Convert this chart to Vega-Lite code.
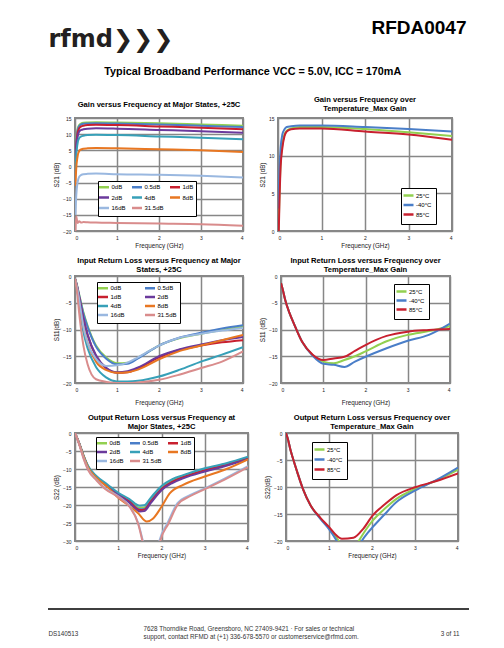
{
"$schema":"https://vega.github.io/schema/vega-lite/v6.json",
"padding":{"left":47,"top":18,"right":5,"bottom":5},
"background":"white",
"config":{
 "font":"Liberation Sans",
 "view":{"stroke":"#878787","strokeWidth":2},
 "title":{"fontSize":7.6,"fontWeight":"bold","color":"#000","offset":5,"lineHeight":9},
 "axis":{"labelFontSize":5,"labelColor":"#222","titleFontSize":6.3,"titleFontWeight":"normal","titleColor":"#222","domain":false,"ticks":false,"gridColor":"#878787","gridWidth":1.5,"labelPadding":4},
 "axisX":{"titlePadding":2},
 "axisY":{"titlePadding":3},
 "legend":{"orient":"none","direction":"horizontal","labelFontSize":6,"labelColor":"#000","strokeColor":"#000","fillColor":"white","padding":2.5,"symbolStrokeWidth":2.5,"symbolSize":16,"symbolType":"M-2.5,0H2.5","rowPadding":0,"columnPadding":6,"labelOffset":4}
},
"resolve":{"scale":{"color":"independent"},"legend":{"color":"independent"}},
"datasets":{
"d1":[
{"s":"0dB","f":0.01,"v":3},{"s":"0dB","f":0.03,"v":8},{"s":"0dB","f":0.06,"v":11.5},{"s":"0dB","f":0.1,"v":12.8},{"s":"0dB","f":0.15,"v":13.3},{"s":"0dB","f":0.2,"v":13.5},{"s":"0dB","f":0.3,"v":13.6},{"s":"0dB","f":0.5,"v":13.7},{"s":"0dB","f":1,"v":13.6},{"s":"0dB","f":2,"v":13.4},{"s":"0dB","f":3,"v":13.0},{"s":"0dB","f":4,"v":12.6},
{"s":"0.5dB","f":0.01,"v":2},{"s":"0.5dB","f":0.03,"v":7.5},{"s":"0.5dB","f":0.06,"v":11},{"s":"0.5dB","f":0.1,"v":12.5},{"s":"0.5dB","f":0.15,"v":13},{"s":"0.5dB","f":0.2,"v":13.2},{"s":"0.5dB","f":0.3,"v":13.3},{"s":"0.5dB","f":0.5,"v":13.4},{"s":"0.5dB","f":1,"v":13.3},{"s":"0.5dB","f":2,"v":13.0},{"s":"0.5dB","f":3,"v":12.6},{"s":"0.5dB","f":4,"v":12.2},
{"s":"1dB","f":0.01,"v":1},{"s":"1dB","f":0.03,"v":6.5},{"s":"1dB","f":0.06,"v":10.2},{"s":"1dB","f":0.1,"v":11.8},{"s":"1dB","f":0.15,"v":12.4},{"s":"1dB","f":0.2,"v":12.6},{"s":"1dB","f":0.3,"v":12.8},{"s":"1dB","f":0.5,"v":12.9},{"s":"1dB","f":1,"v":12.8},{"s":"1dB","f":2,"v":12.4},{"s":"1dB","f":3,"v":12.0},{"s":"1dB","f":4,"v":11.5},
{"s":"2dB","f":0.01,"v":0},{"s":"2dB","f":0.03,"v":5.5},{"s":"2dB","f":0.06,"v":9},{"s":"2dB","f":0.1,"v":10.8},{"s":"2dB","f":0.15,"v":11.3},{"s":"2dB","f":0.2,"v":11.5},{"s":"2dB","f":0.3,"v":11.7},{"s":"2dB","f":0.5,"v":11.8},{"s":"2dB","f":1,"v":11.7},{"s":"2dB","f":2,"v":11.3},{"s":"2dB","f":3,"v":10.9},{"s":"2dB","f":4,"v":10.4},
{"s":"4dB","f":0.01,"v":-2},{"s":"4dB","f":0.03,"v":3.5},{"s":"4dB","f":0.06,"v":7},{"s":"4dB","f":0.1,"v":8.8},{"s":"4dB","f":0.15,"v":9.3},{"s":"4dB","f":0.2,"v":9.5},{"s":"4dB","f":0.3,"v":9.7},{"s":"4dB","f":0.5,"v":9.8},{"s":"4dB","f":1,"v":9.7},{"s":"4dB","f":2,"v":9.3},{"s":"4dB","f":3,"v":8.9},{"s":"4dB","f":4,"v":8.4},
{"s":"8dB","f":0.01,"v":-6},{"s":"8dB","f":0.03,"v":-0.5},{"s":"8dB","f":0.06,"v":3},{"s":"8dB","f":0.1,"v":4.8},{"s":"8dB","f":0.15,"v":5.3},{"s":"8dB","f":0.2,"v":5.5},{"s":"8dB","f":0.3,"v":5.6},{"s":"8dB","f":0.5,"v":5.7},{"s":"8dB","f":1,"v":5.6},{"s":"8dB","f":2,"v":5.3},{"s":"8dB","f":3,"v":5.0},{"s":"8dB","f":4,"v":4.5},
{"s":"16dB","f":0.01,"v":-15},{"s":"16dB","f":0.03,"v":-9},{"s":"16dB","f":0.06,"v":-5},{"s":"16dB","f":0.1,"v":-3.2},{"s":"16dB","f":0.15,"v":-2.6},{"s":"16dB","f":0.2,"v":-2.4},{"s":"16dB","f":0.3,"v":-2.3},{"s":"16dB","f":0.5,"v":-2.2},{"s":"16dB","f":1,"v":-2.4},{"s":"16dB","f":2,"v":-2.6},{"s":"16dB","f":3,"v":-2.9},{"s":"16dB","f":4,"v":-3.4},
{"s":"31.5dB","f":0.01,"v":-20},{"s":"31.5dB","f":0.03,"v":-15.5},{"s":"31.5dB","f":0.06,"v":-17.5},{"s":"31.5dB","f":0.1,"v":-17},{"s":"31.5dB","f":0.15,"v":-17.4},{"s":"31.5dB","f":0.2,"v":-17.2},{"s":"31.5dB","f":0.3,"v":-17.3},{"s":"31.5dB","f":0.5,"v":-17.4},{"s":"31.5dB","f":1,"v":-17.5},{"s":"31.5dB","f":2,"v":-17.7},{"s":"31.5dB","f":3,"v":-17.9},{"s":"31.5dB","f":4,"v":-18.4}
],
"d2":[
{"s":"25°C","f":0.01,"v":-1},{"s":"25°C","f":0.03,"v":4},{"s":"25°C","f":0.06,"v":9},{"s":"25°C","f":0.1,"v":11.5},{"s":"25°C","f":0.15,"v":12.8},{"s":"25°C","f":0.2,"v":13.3},{"s":"25°C","f":0.3,"v":13.6},{"s":"25°C","f":0.5,"v":13.8},{"s":"25°C","f":1,"v":13.8},{"s":"25°C","f":2,"v":13.55},{"s":"25°C","f":3,"v":13.1},{"s":"25°C","f":4,"v":12.6},
{"s":"-40°C","f":0.01,"v":3},{"s":"-40°C","f":0.03,"v":7.5},{"s":"-40°C","f":0.06,"v":11},{"s":"-40°C","f":0.1,"v":12.8},{"s":"-40°C","f":0.15,"v":13.5},{"s":"-40°C","f":0.2,"v":13.8},{"s":"-40°C","f":0.3,"v":13.9},{"s":"-40°C","f":0.5,"v":14.0},{"s":"-40°C","f":1,"v":14.0},{"s":"-40°C","f":2,"v":13.8},{"s":"-40°C","f":3,"v":13.55},{"s":"-40°C","f":4,"v":13.2},
{"s":"85°C","f":0.01,"v":-2},{"s":"85°C","f":0.03,"v":3},{"s":"85°C","f":0.06,"v":8.5},{"s":"85°C","f":0.1,"v":11},{"s":"85°C","f":0.15,"v":12.6},{"s":"85°C","f":0.2,"v":13.2},{"s":"85°C","f":0.3,"v":13.5},{"s":"85°C","f":0.5,"v":13.6},{"s":"85°C","f":1,"v":13.6},{"s":"85°C","f":2,"v":13.2},{"s":"85°C","f":3,"v":12.8},{"s":"85°C","f":4,"v":12.1}
],
"d3":[
{"s":"0dB","f":0,"v":-0.5},{"s":"0dB","f":0.05,"v":-1.8},{"s":"0dB","f":0.1,"v":-3.5},{"s":"0dB","f":0.2,"v":-6.8},{"s":"0dB","f":0.3,"v":-9.3},{"s":"0dB","f":0.5,"v":-13},{"s":"0dB","f":0.75,"v":-15.3},{"s":"0dB","f":1,"v":-16.3},{"s":"0dB","f":1.25,"v":-16.2},{"s":"0dB","f":1.5,"v":-15.3},{"s":"0dB","f":2,"v":-13},{"s":"0dB","f":2.5,"v":-11.6},{"s":"0dB","f":3,"v":-10.8},{"s":"0dB","f":3.5,"v":-10.1},{"s":"0dB","f":4,"v":-9.5},
{"s":"0.5dB","f":0,"v":-0.5},{"s":"0.5dB","f":0.05,"v":-1.8},{"s":"0.5dB","f":0.1,"v":-3.6},{"s":"0.5dB","f":0.2,"v":-7},{"s":"0.5dB","f":0.3,"v":-9.5},{"s":"0.5dB","f":0.5,"v":-13.2},{"s":"0.5dB","f":0.75,"v":-15.5},{"s":"0.5dB","f":1,"v":-16.5},{"s":"0.5dB","f":1.25,"v":-16.4},{"s":"0.5dB","f":1.5,"v":-15.4},{"s":"0.5dB","f":2,"v":-13},{"s":"0.5dB","f":2.5,"v":-11.5},{"s":"0.5dB","f":3,"v":-10.6},{"s":"0.5dB","f":3.5,"v":-9.8},{"s":"0.5dB","f":4,"v":-9.2},
{"s":"1dB","f":0,"v":-0.5},{"s":"1dB","f":0.05,"v":-2},{"s":"1dB","f":0.1,"v":-4},{"s":"1dB","f":0.2,"v":-8},{"s":"1dB","f":0.3,"v":-11},{"s":"1dB","f":0.5,"v":-15},{"s":"1dB","f":0.75,"v":-17.3},{"s":"1dB","f":1,"v":-18.1},{"s":"1dB","f":1.25,"v":-18},{"s":"1dB","f":1.5,"v":-17.3},{"s":"1dB","f":2,"v":-15.2},{"s":"1dB","f":2.5,"v":-13.8},{"s":"1dB","f":3,"v":-13},{"s":"1dB","f":3.5,"v":-12.4},{"s":"1dB","f":4,"v":-12},
{"s":"2dB","f":0,"v":-0.5},{"s":"2dB","f":0.05,"v":-2},{"s":"2dB","f":0.1,"v":-4},{"s":"2dB","f":0.2,"v":-8},{"s":"2dB","f":0.3,"v":-11},{"s":"2dB","f":0.5,"v":-14.8},{"s":"2dB","f":0.75,"v":-17.2},{"s":"2dB","f":1,"v":-18},{"s":"2dB","f":1.25,"v":-17.8},{"s":"2dB","f":1.5,"v":-17.1},{"s":"2dB","f":2,"v":-15},{"s":"2dB","f":2.5,"v":-13.7},{"s":"2dB","f":3,"v":-12.8},{"s":"2dB","f":3.5,"v":-12},{"s":"2dB","f":4,"v":-11.4},
{"s":"4dB","f":0,"v":-0.5},{"s":"4dB","f":0.05,"v":-2.5},{"s":"4dB","f":0.1,"v":-5.5},{"s":"4dB","f":0.2,"v":-10.5},{"s":"4dB","f":0.3,"v":-13.5},{"s":"4dB","f":0.5,"v":-17},{"s":"4dB","f":0.75,"v":-19},{"s":"4dB","f":1,"v":-19.7},{"s":"4dB","f":1.25,"v":-19.7},{"s":"4dB","f":1.5,"v":-19.6},{"s":"4dB","f":2,"v":-18.8},{"s":"4dB","f":2.5,"v":-17.5},{"s":"4dB","f":3,"v":-16},{"s":"4dB","f":3.5,"v":-14.7},{"s":"4dB","f":4,"v":-13.3},
{"s":"8dB","f":0,"v":-0.5},{"s":"8dB","f":0.05,"v":-2.4},{"s":"8dB","f":0.1,"v":-5},{"s":"8dB","f":0.2,"v":-9.5},{"s":"8dB","f":0.3,"v":-12.5},{"s":"8dB","f":0.5,"v":-16},{"s":"8dB","f":0.75,"v":-17.6},{"s":"8dB","f":1,"v":-18.1},{"s":"8dB","f":1.25,"v":-18},{"s":"8dB","f":1.5,"v":-17.5},{"s":"8dB","f":2,"v":-15.6},{"s":"8dB","f":2.5,"v":-14},{"s":"8dB","f":3,"v":-13},{"s":"8dB","f":3.5,"v":-12},{"s":"8dB","f":4,"v":-11},
{"s":"16dB","f":0,"v":-0.5},{"s":"16dB","f":0.05,"v":-2.2},{"s":"16dB","f":0.1,"v":-4.5},{"s":"16dB","f":0.2,"v":-9.5},{"s":"16dB","f":0.3,"v":-12.5},{"s":"16dB","f":0.5,"v":-15.5},{"s":"16dB","f":0.75,"v":-16.8},{"s":"16dB","f":1,"v":-16.7},{"s":"16dB","f":1.25,"v":-16.2},{"s":"16dB","f":1.5,"v":-15.2},{"s":"16dB","f":2,"v":-13},{"s":"16dB","f":2.5,"v":-11.5},{"s":"16dB","f":3,"v":-10.8},{"s":"16dB","f":3.5,"v":-10.2},{"s":"16dB","f":4,"v":-9.7},
{"s":"31.5dB","f":0,"v":-0.5},{"s":"31.5dB","f":0.05,"v":-3},{"s":"31.5dB","f":0.1,"v":-7},{"s":"31.5dB","f":0.2,"v":-13},{"s":"31.5dB","f":0.3,"v":-16.5},{"s":"31.5dB","f":0.5,"v":-19.3},{"s":"31.5dB","f":0.75,"v":-19.8},{"s":"31.5dB","f":1,"v":-20},{"s":"31.5dB","f":1.25,"v":-20},{"s":"31.5dB","f":1.5,"v":-19.9},{"s":"31.5dB","f":2,"v":-19.4},{"s":"31.5dB","f":2.5,"v":-18.4},{"s":"31.5dB","f":3,"v":-17.2},{"s":"31.5dB","f":3.5,"v":-16},{"s":"31.5dB","f":4,"v":-14.1}
],
"d4":[
{"s":"25°C","f":0,"v":-1.3},{"s":"25°C","f":0.05,"v":-2.8},{"s":"25°C","f":0.1,"v":-4.5},{"s":"25°C","f":0.2,"v":-6.9},{"s":"25°C","f":0.3,"v":-8.8},{"s":"25°C","f":0.5,"v":-12.3},{"s":"25°C","f":0.75,"v":-14.8},{"s":"25°C","f":1,"v":-16},{"s":"25°C","f":1.25,"v":-16.3},{"s":"25°C","f":1.5,"v":-15.7},{"s":"25°C","f":1.75,"v":-15},{"s":"25°C","f":2,"v":-14.1},{"s":"25°C","f":2.5,"v":-12.2},{"s":"25°C","f":3,"v":-11},{"s":"25°C","f":3.5,"v":-10.3},{"s":"25°C","f":4,"v":-9.4},
{"s":"-40°C","f":0,"v":-1.3},{"s":"-40°C","f":0.05,"v":-2.8},{"s":"-40°C","f":0.1,"v":-4.5},{"s":"-40°C","f":0.2,"v":-6.9},{"s":"-40°C","f":0.3,"v":-8.8},{"s":"-40°C","f":0.5,"v":-12.3},{"s":"-40°C","f":0.75,"v":-14.9},{"s":"-40°C","f":1,"v":-16.4},{"s":"-40°C","f":1.25,"v":-16.6},{"s":"-40°C","f":1.5,"v":-17},{"s":"-40°C","f":1.75,"v":-16},{"s":"-40°C","f":2,"v":-15.1},{"s":"-40°C","f":2.5,"v":-13.5},{"s":"-40°C","f":3,"v":-12.1},{"s":"-40°C","f":3.5,"v":-11},{"s":"-40°C","f":4,"v":-8.9},
{"s":"85°C","f":0,"v":-1.3},{"s":"85°C","f":0.05,"v":-2.8},{"s":"85°C","f":0.1,"v":-4.5},{"s":"85°C","f":0.2,"v":-6.9},{"s":"85°C","f":0.3,"v":-8.8},{"s":"85°C","f":0.5,"v":-12.3},{"s":"85°C","f":0.75,"v":-14.7},{"s":"85°C","f":1,"v":-15.7},{"s":"85°C","f":1.25,"v":-15.4},{"s":"85°C","f":1.5,"v":-15.1},{"s":"85°C","f":1.75,"v":-14},{"s":"85°C","f":2,"v":-12.9},{"s":"85°C","f":2.5,"v":-11.2},{"s":"85°C","f":3,"v":-10.4},{"s":"85°C","f":3.5,"v":-10.1},{"s":"85°C","f":4,"v":-9.9}
],
"d5":[
{"s":"0dB","f":0,"v":0},{"s":"0dB","f":0.1,"v":-3},{"s":"0dB","f":0.2,"v":-6.5},{"s":"0dB","f":0.3,"v":-9.3},{"s":"0dB","f":0.5,"v":-12.2},{"s":"0dB","f":0.75,"v":-14.5},{"s":"0dB","f":1,"v":-16.8},{"s":"0dB","f":1.25,"v":-18.6},{"s":"0dB","f":1.5,"v":-20.8},{"s":"0dB","f":1.6,"v":-20.7},{"s":"0dB","f":1.75,"v":-18.5},{"s":"0dB","f":2,"v":-15.2},{"s":"0dB","f":2.25,"v":-13.2},{"s":"0dB","f":2.5,"v":-12},{"s":"0dB","f":3,"v":-10.1},{"s":"0dB","f":3.5,"v":-8.7},{"s":"0dB","f":4,"v":-6.9},
{"s":"0.5dB","f":0,"v":0},{"s":"0.5dB","f":0.1,"v":-3},{"s":"0.5dB","f":0.2,"v":-6.5},{"s":"0.5dB","f":0.3,"v":-9.3},{"s":"0.5dB","f":0.5,"v":-12.3},{"s":"0.5dB","f":0.75,"v":-14.6},{"s":"0.5dB","f":1,"v":-16.9},{"s":"0.5dB","f":1.25,"v":-18.8},{"s":"0.5dB","f":1.5,"v":-21.2},{"s":"0.5dB","f":1.6,"v":-21.1},{"s":"0.5dB","f":1.75,"v":-18.9},{"s":"0.5dB","f":2,"v":-15.5},{"s":"0.5dB","f":2.25,"v":-13.5},{"s":"0.5dB","f":2.5,"v":-12.2},{"s":"0.5dB","f":3,"v":-10.3},{"s":"0.5dB","f":3.5,"v":-8.8},{"s":"0.5dB","f":4,"v":-7},
{"s":"1dB","f":0,"v":0},{"s":"1dB","f":0.1,"v":-3},{"s":"1dB","f":0.2,"v":-6.5},{"s":"1dB","f":0.3,"v":-9.4},{"s":"1dB","f":0.5,"v":-12.3},{"s":"1dB","f":0.75,"v":-14.7},{"s":"1dB","f":1,"v":-17},{"s":"1dB","f":1.25,"v":-19},{"s":"1dB","f":1.5,"v":-21.4},{"s":"1dB","f":1.6,"v":-21.3},{"s":"1dB","f":1.75,"v":-19.1},{"s":"1dB","f":2,"v":-15.6},{"s":"1dB","f":2.25,"v":-13.6},{"s":"1dB","f":2.5,"v":-12.3},{"s":"1dB","f":3,"v":-10.4},{"s":"1dB","f":3.5,"v":-8.9},{"s":"1dB","f":4,"v":-7.1},
{"s":"2dB","f":0,"v":0},{"s":"2dB","f":0.1,"v":-3},{"s":"2dB","f":0.2,"v":-6.6},{"s":"2dB","f":0.3,"v":-9.5},{"s":"2dB","f":0.5,"v":-12.4},{"s":"2dB","f":0.75,"v":-14.8},{"s":"2dB","f":1,"v":-17.2},{"s":"2dB","f":1.25,"v":-19.3},{"s":"2dB","f":1.5,"v":-21.8},{"s":"2dB","f":1.6,"v":-21.7},{"s":"2dB","f":1.75,"v":-19.5},{"s":"2dB","f":2,"v":-15.9},{"s":"2dB","f":2.25,"v":-13.9},{"s":"2dB","f":2.5,"v":-12.6},{"s":"2dB","f":3,"v":-10.7},{"s":"2dB","f":3.5,"v":-9.1},{"s":"2dB","f":4,"v":-7.3},
{"s":"4dB","f":0,"v":0},{"s":"4dB","f":0.1,"v":-2.9},{"s":"4dB","f":0.2,"v":-6.3},{"s":"4dB","f":0.3,"v":-9.1},{"s":"4dB","f":0.5,"v":-12},{"s":"4dB","f":0.75,"v":-14.3},{"s":"4dB","f":1,"v":-16.6},{"s":"4dB","f":1.25,"v":-18.3},{"s":"4dB","f":1.5,"v":-20.2},{"s":"4dB","f":1.6,"v":-20.1},{"s":"4dB","f":1.75,"v":-18},{"s":"4dB","f":2,"v":-14.7},{"s":"4dB","f":2.25,"v":-12.8},{"s":"4dB","f":2.5,"v":-11.7},{"s":"4dB","f":3,"v":-9.8},{"s":"4dB","f":3.5,"v":-8.4},{"s":"4dB","f":4,"v":-6.6},
{"s":"8dB","f":0,"v":0},{"s":"8dB","f":0.1,"v":-3},{"s":"8dB","f":0.2,"v":-6.5},{"s":"8dB","f":0.3,"v":-9.5},{"s":"8dB","f":0.5,"v":-12.5},{"s":"8dB","f":0.75,"v":-15},{"s":"8dB","f":1,"v":-18},{"s":"8dB","f":1.25,"v":-20.2},{"s":"8dB","f":1.46,"v":-22.3},{"s":"8dB","f":1.66,"v":-24.6},{"s":"8dB","f":1.8,"v":-23.8},{"s":"8dB","f":2,"v":-20.5},{"s":"8dB","f":2.19,"v":-16.8},{"s":"8dB","f":2.5,"v":-14.4},{"s":"8dB","f":3,"v":-12.1},{"s":"8dB","f":3.5,"v":-10},{"s":"8dB","f":4,"v":-7.3},
{"s":"16dB","f":0,"v":0},{"s":"16dB","f":0.1,"v":-3.2},{"s":"16dB","f":0.2,"v":-7},{"s":"16dB","f":0.3,"v":-10},{"s":"16dB","f":0.5,"v":-13},{"s":"16dB","f":0.69,"v":-15.3},{"s":"16dB","f":1,"v":-17.6},{"s":"16dB","f":1.26,"v":-20.3},{"s":"16dB","f":1.46,"v":-25},{"s":"16dB","f":1.57,"v":-30},{"s":"16dB","f":1.65,"v":-34},{"s":"16dB","f":1.88,"v":-34},{"s":"16dB","f":1.95,"v":-30},{"s":"16dB","f":2.14,"v":-25},{"s":"16dB","f":2.37,"v":-19.5},{"s":"16dB","f":2.67,"v":-17.2},{"s":"16dB","f":3,"v":-15.4},{"s":"16dB","f":3.47,"v":-12.6},{"s":"16dB","f":4,"v":-9.2},
{"s":"31.5dB","f":0,"v":0},{"s":"31.5dB","f":0.1,"v":-3.3},{"s":"31.5dB","f":0.2,"v":-7.2},{"s":"31.5dB","f":0.3,"v":-10.2},{"s":"31.5dB","f":0.5,"v":-13.2},{"s":"31.5dB","f":0.69,"v":-15.5},{"s":"31.5dB","f":1,"v":-17.8},{"s":"31.5dB","f":1.26,"v":-20.5},{"s":"31.5dB","f":1.46,"v":-25.2},{"s":"31.5dB","f":1.56,"v":-30},{"s":"31.5dB","f":1.64,"v":-34},{"s":"31.5dB","f":1.9,"v":-34},{"s":"31.5dB","f":1.97,"v":-30},{"s":"31.5dB","f":2.16,"v":-25.2},{"s":"31.5dB","f":2.38,"v":-19.8},{"s":"31.5dB","f":2.67,"v":-17.5},{"s":"31.5dB","f":3,"v":-15.6},{"s":"31.5dB","f":3.47,"v":-12.9},{"s":"31.5dB","f":4,"v":-9.5}
],
"d6":[
{"s":"25°C","f":0,"v":0},{"s":"25°C","f":0.05,"v":-1.3},{"s":"25°C","f":0.1,"v":-3},{"s":"25°C","f":0.15,"v":-4.4},{"s":"25°C","f":0.26,"v":-7.2},{"s":"25°C","f":0.4,"v":-10.5},{"s":"25°C","f":0.57,"v":-13.4},{"s":"25°C","f":0.8,"v":-15.8},{"s":"25°C","f":1,"v":-17.6},{"s":"25°C","f":1.15,"v":-19.2},{"s":"25°C","f":1.23,"v":-20},{"s":"25°C","f":1.35,"v":-21.5},{"s":"25°C","f":1.55,"v":-21.5},{"s":"25°C","f":1.69,"v":-20},{"s":"25°C","f":1.85,"v":-18},{"s":"25°C","f":2.02,"v":-16.2},{"s":"25°C","f":2.3,"v":-14},{"s":"25°C","f":2.57,"v":-12.2},{"s":"25°C","f":3.02,"v":-10.3},{"s":"25°C","f":3.5,"v":-8.8},{"s":"25°C","f":4,"v":-6.8},
{"s":"-40°C","f":0,"v":0},{"s":"-40°C","f":0.05,"v":-1.3},{"s":"-40°C","f":0.1,"v":-3},{"s":"-40°C","f":0.15,"v":-4.4},{"s":"-40°C","f":0.26,"v":-7.2},{"s":"-40°C","f":0.4,"v":-10.5},{"s":"-40°C","f":0.57,"v":-13.4},{"s":"-40°C","f":0.8,"v":-15.9},{"s":"-40°C","f":1,"v":-17.8},{"s":"-40°C","f":1.12,"v":-19.2},{"s":"-40°C","f":1.18,"v":-20},{"s":"-40°C","f":1.3,"v":-21.5},{"s":"-40°C","f":1.65,"v":-21.5},{"s":"-40°C","f":1.76,"v":-20},{"s":"-40°C","f":1.9,"v":-18.5},{"s":"-40°C","f":2.02,"v":-17.4},{"s":"-40°C","f":2.3,"v":-15},{"s":"-40°C","f":2.57,"v":-12.8},{"s":"-40°C","f":3.02,"v":-10.6},{"s":"-40°C","f":3.5,"v":-8.7},{"s":"-40°C","f":4,"v":-6.4},
{"s":"85°C","f":0,"v":0},{"s":"85°C","f":0.05,"v":-1.3},{"s":"85°C","f":0.1,"v":-3},{"s":"85°C","f":0.15,"v":-4.4},{"s":"85°C","f":0.26,"v":-7.2},{"s":"85°C","f":0.4,"v":-10.5},{"s":"85°C","f":0.57,"v":-13.4},{"s":"85°C","f":0.8,"v":-15.7},{"s":"85°C","f":1,"v":-17.4},{"s":"85°C","f":1.15,"v":-18.8},{"s":"85°C","f":1.3,"v":-19.6},{"s":"85°C","f":1.57,"v":-19.4},{"s":"85°C","f":1.8,"v":-17.7},{"s":"85°C","f":2.02,"v":-15.2},{"s":"85°C","f":2.27,"v":-13.4},{"s":"85°C","f":2.57,"v":-11.5},{"s":"85°C","f":3.02,"v":-10},{"s":"85°C","f":3.5,"v":-8.9},{"s":"85°C","f":4,"v":-7.5}
]
},
"spacing":6,
"vconcat":[
 {"width":394,"height":9,"view":{"stroke":null},"data":{"values":[{}]},
  "mark":{"type":"point","opacity":0},
  "encoding":{
   "x":{"datum":0,"type":"quantitative","scale":{"domain":[0,1]},"axis":{"orient":"top","title":"rfmd❯❯❯","titleX":-27,"titleY":-1,"titleAlign":"left","titleBaseline":"alphabetic","titleFont":"DejaVu Sans","titleFontSize":24,"titleFontWeight":"bold","titleColor":"#231f20","labels":false,"ticks":false,"domain":false,"grid":false}},
   "y":{"datum":0,"type":"quantitative","scale":{"domain":[0,1]},"axis":{"orient":"right","title":"RFDA0047","titleX":-3,"titleY":-14,"titleAngle":0,"titleAlign":"right","titleBaseline":"alphabetic","titleFontSize":19,"titleFontWeight":"bold","titleColor":"#000","labels":false,"ticks":false,"domain":false,"grid":false}}
  }},
 {"resolve":{"scale":{"color":"independent"},"legend":{"color":"independent"}},
  "hconcat":[
  {"width":168,"height":113,"data":{"name":"d1"},
   "title":{"text":"Gain versus Frequency at Major States, +25C","offset":7},
   "mark":{"type":"line","strokeWidth":2,"clip":true,"interpolate":"monotone"},
   "encoding":{
    "x":{"field":"f","type":"quantitative","scale":{"domain":[0,4],"nice":false},"axis":{"values":[0,1,2,3,4],"title":"Frequency (GHz)","titlePadding":2}},
    "y":{"field":"v","type":"quantitative","scale":{"domain":[-20,15],"nice":false},"axis":{"values":[-20,-15,-10,-5,0,5,10,15],"title":"S21 (dB)"}},
    "color":{"field":"s","type":"nominal","scale":{"domain":["0dB","0.5dB","1dB","2dB","4dB","8dB","16dB","31.5dB"],"range":["#92D050","#4A7EC8","#C8202F","#6B3A9C","#37A0B8","#E87722","#9AB8E0","#D98C8C"]},"legend":{"title":null,"columns":3,"rowPadding":-0.5,"columnPadding":0,"legendX":23,"legendY":63}}
   }},
  {"width":174,"height":113,"data":{"name":"d2"},
   "title":{"text":["Gain versus Frequency over","Temperature_Max Gain"],"offset":3},
   "mark":{"type":"line","strokeWidth":2,"clip":true,"interpolate":"monotone"},
   "encoding":{
    "x":{"field":"f","type":"quantitative","scale":{"domain":[0,4],"nice":false},"axis":{"values":[0,1,2,3,4],"title":"Frequency (GHz)","titlePadding":2}},
    "y":{"field":"v","type":"quantitative","scale":{"domain":[0,15],"nice":false},"axis":{"values":[0,5,10,15],"title":"S21 (dB)"}},
    "color":{"field":"s","type":"nominal","scale":{"domain":["25°C","-40°C","85°C"],"range":["#92D050","#4A7EC8","#C8202F"]},"legend":{"title":null,"columns":1,"rowPadding":-1.5,"padding":4,"legendX":123,"legendY":70}}
   }}
 ],"spacing":14,
 "title":{"text":"Typical Broadband Performance VCC = 5.0V, ICC = 170mA","fontSize":10.8,"anchor":"middle","offset":19}},
 {"resolve":{"scale":{"color":"independent"},"legend":{"color":"independent"}},
  "hconcat":[
  {"width":168,"height":107,"data":{"name":"d3"},
   "title":{"text":["Input Return Loss versus Frequency at Major","States, +25C"],"offset":0},
   "mark":{"type":"line","strokeWidth":2,"clip":true,"interpolate":"monotone"},
   "encoding":{
    "x":{"field":"f","type":"quantitative","scale":{"domain":[0,4],"nice":false},"axis":{"values":[0,1,2,3,4],"title":"Frequency (GHz)","titlePadding":7}},
    "y":{"field":"v","type":"quantitative","scale":{"domain":[-20,0],"nice":false},"axis":{"values":[-20,-15,-10,-5,0],"title":"S11(dB)"}},
    "color":{"field":"s","type":"nominal","scale":{"domain":["0dB","0.5dB","1dB","2dB","4dB","8dB","16dB","31.5dB"],"range":["#92D050","#4A7EC8","#C8202F","#6B3A9C","#37A0B8","#E87722","#9AB8E0","#D98C8C"]},"legend":{"title":null,"columns":2,"rowPadding":-2.7,"columnPadding":14,"legendX":22,"legendY":6}}
   }},
  {"width":169,"height":107,"data":{"name":"d4"},
   "title":{"text":["Input Return Loss versus Frequency over","Temperature_Max Gain"],"offset":0},
   "mark":{"type":"line","strokeWidth":2,"clip":true,"interpolate":"monotone"},
   "encoding":{
    "x":{"field":"f","type":"quantitative","scale":{"domain":[0,4],"nice":false},"axis":{"values":[0,1,2,3,4],"title":"Frequency (GHz)","titlePadding":7}},
    "y":{"field":"v","type":"quantitative","scale":{"domain":[-20,0],"nice":false},"axis":{"values":[-20,-15,-10,-5,0],"title":"S11 (dB)"}},
    "color":{"field":"s","type":"nominal","scale":{"domain":["25°C","-40°C","85°C"],"range":["#92D050","#4A7EC8","#C8202F"]},"legend":{"title":null,"columns":1,"rowPadding":-2,"padding":4,"legendX":113,"legendY":8}}
   }}
 ],"spacing":14},
 {"resolve":{"scale":{"color":"independent"},"legend":{"color":"independent"}},
  "hconcat":[
  {"width":173,"height":108,"data":{"name":"d5"},
   "title":{"text":["Output Return Loss versus Frequency at","Major States, +25C"],"offset":0},
   "mark":{"type":"line","strokeWidth":2,"clip":true,"interpolate":"monotone"},
   "encoding":{
    "x":{"field":"f","type":"quantitative","scale":{"domain":[0,4],"nice":false},"axis":{"values":[0,1,2,3,4],"title":"Frequency (GHz)"}},
    "y":{"field":"v","type":"quantitative","scale":{"domain":[-30,0],"nice":false},"axis":{"values":[-30,-25,-20,-15,-10,-5,0],"title":"S22 (dB)"}},
    "color":{"field":"s","type":"nominal","scale":{"domain":["0dB","0.5dB","1dB","2dB","4dB","8dB","16dB","31.5dB"],"range":["#92D050","#4A7EC8","#C8202F","#6B3A9C","#37A0B8","#E87722","#9AB8E0","#D98C8C"]},"legend":{"title":null,"columns":3,"rowPadding":-4.5,"columnPadding":0,"legendX":21,"legendY":4}}
   }},
  {"width":172,"height":108,"data":{"name":"d6"},
   "title":{"text":["Output Return Loss versus Frequency over","Temperature_Max Gain"],"offset":0},
   "mark":{"type":"line","strokeWidth":2,"clip":true,"interpolate":"monotone"},
   "encoding":{
    "x":{"field":"f","type":"quantitative","scale":{"domain":[0,4],"nice":false},"axis":{"values":[0,1,2,3,4],"title":"Frequency (GHz)"}},
    "y":{"field":"v","type":"quantitative","scale":{"domain":[-20,0],"nice":false},"axis":{"values":[-20,-15,-10,-5,0],"title":"S22(dB)"}},
    "color":{"field":"s","type":"nominal","scale":{"domain":["25°C","-40°C","85°C"],"range":["#92D050","#4A7EC8","#C8202F"]},"legend":{"title":null,"columns":1,"rowPadding":-1,"padding":4,"legendX":26,"legendY":9}}
   }}
 ],"spacing":14},
 {"width":394,"height":43,"view":{"stroke":null},"data":{"values":[{}]},
  "layer":[
   {"mark":{"type":"rule","color":"#000","strokeWidth":1.2},
    "encoding":{
     "x":{"datum":-27,"type":"quantitative","scale":{"domain":[0,394],"nice":false,"zero":false},"axis":{"orient":"bottom","title":"DS140513","titleX":-27,"titleY":21,"titleAlign":"left","titleBaseline":"top","titleFontSize":6.3,"titleColor":"#333","labels":false,"ticks":false,"domain":false,"grid":false}},
     "x2":{"datum":394},
     "y":{"datum":0,"type":"quantitative","scale":{"domain":[0,1],"nice":false},"axis":{"orient":"left","title":["7628 Thorndike Road, Greensboro, NC  27409-9421 · For sales or technical","support, contact RFMD at (+1) 336-678-5570 or customerservice@rfmd.com."],"titleX":68,"titleY":59,"titleAngle":0,"titleAlign":"left","titleBaseline":"top","titleFontSize":6.3,"titleLineHeight":8,"titleColor":"#333","labels":false,"ticks":false,"domain":false,"grid":false}}
    }},
   {"mark":{"type":"rule","color":"#000","strokeWidth":1.2},
    "encoding":{
     "x":{"datum":-27,"type":"quantitative"},
     "x2":{"datum":394},
     "y":{"datum":0,"type":"quantitative","scale":{"domain":[0,1],"nice":false},"axis":{"orient":"right","title":"3 of 11","titleX":-10,"titleY":64,"titleAngle":0,"titleAlign":"right","titleBaseline":"top","titleFontSize":6.3,"titleColor":"#333","labels":false,"ticks":false,"domain":false,"grid":false}}
    }}
  ],
  "resolve":{"scale":{"y":"independent"},"axis":{"y":"independent"}}
 }
]
}
